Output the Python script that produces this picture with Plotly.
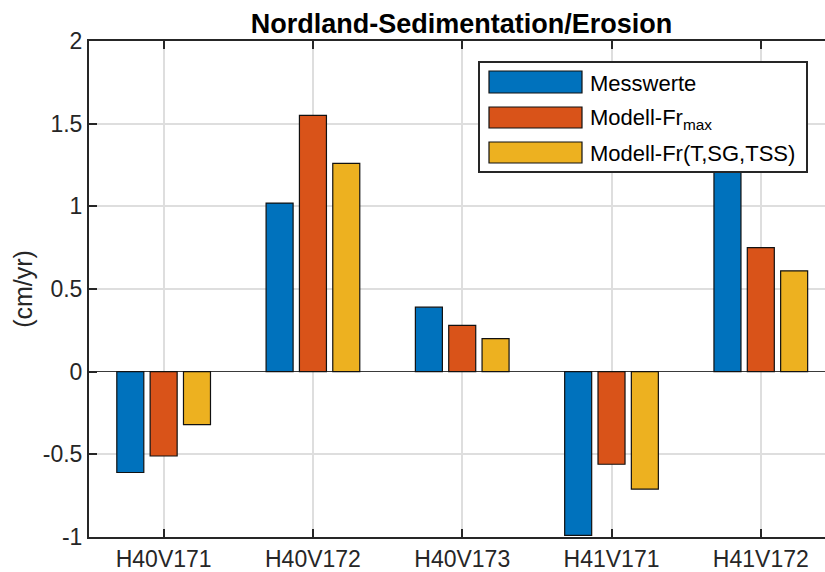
import plotly.graph_objects as go

# Station names and annual rates (cm/yr)
stations = ["H40V171", "H40V172", "H40V173", "H41V171", "H41V172"]
messwerte = [-0.61, 1.02, 0.39, -0.99, 1.45]
modell_frmax = [-0.51, 1.55, 0.28, -0.56, 0.75]
modell_fr_tsgtss = [-0.32, 1.26, 0.20, -0.71, 0.61]

series_names = ["Messwerte", "Modell-Fr<sub>max</sub>", "Modell-Fr(T,SG,TSS)"]
series_values = [messwerte, modell_frmax, modell_fr_tsgtss]
colors = ["#0072BD", "#D95319", "#EDB120"]

y_ticks = [-1, -0.5, 0, 0.5, 1, 1.5, 2]
y_ticktext = ["-1", "-0.5", "0", "0.5", "1", "1.5", "2"]

FONT = "Liberation Sans, Arial, Helvetica, sans-serif"
DARK = "#262626"
GRID = "#dedede"

fig = go.Figure()
for name, vals, col in zip(series_names, series_values, colors):
    fig.add_trace(go.Bar(
        x=stations, y=vals, name=name,
        marker=dict(color=col, line=dict(color="#111111", width=1.2)),
        showlegend=False,
    ))

# plot area in pixels: left 89, right 825, top 41, bottom 537
L, R, T, B = 89, 825, 41, 537
def px(x):
    return (x - L) / (R - L)
def py(y):
    return (B - y) / (B - T)

shapes = []
annotations = []

# legend box with wide colour swatches
shapes.append(dict(type="rect", xref="paper", yref="paper",
                   x0=px(479), x1=px(807), y0=py(172), y1=py(62),
                   fillcolor="white", line=dict(color=DARK, width=2), layer="above"))
rows = [(71, 93), (107, 128), (142, 163)]
for (y0, y1), name, col in zip(rows, series_names, colors):
    shapes.append(dict(type="rect", xref="paper", yref="paper",
                       x0=px(489), x1=px(582), y0=py(y1), y1=py(y0),
                       fillcolor=col, line=dict(color="#111111", width=1.2), layer="above"))
    annotations.append(dict(xref="paper", yref="paper", x=px(588), y=py((y0 + y1) / 2 + 1),
                            text=name, showarrow=False, xanchor="left", yanchor="middle",
                            font=dict(family=FONT, size=22, color="#000000")))

fig.update_layout(
    width=825, height=572,
    margin=dict(l=L, r=825 - R, t=T, b=572 - B),
    paper_bgcolor="white", plot_bgcolor="white",
    barmode="group", bargap=0.33, bargroupgap=0.19,
    title=dict(text="<b>Nordland-Sedimentation/Erosion</b>", x=(L + 834) / 2 / 825,
               xanchor="center", y=1 - 24 / 572, yanchor="middle",
               font=dict(family=FONT, size=27, color="#000000")),
    font=dict(family=FONT, color=DARK),
    shapes=shapes, annotations=annotations,
)

fig.update_xaxes(
    type="category", range=[-0.5, 4.43],
    showgrid=True, gridcolor=GRID, gridwidth=1.5,
    showline=True, linecolor=DARK, linewidth=2, mirror="ticks",
    ticks="inside", ticklen=8, tickwidth=2, tickcolor=DARK,
    tickfont=dict(family=FONT, size=23, color=DARK),
    zeroline=False,
)
fig.update_yaxes(
    range=[-1, 2], tickvals=y_ticks, ticktext=y_ticktext,
    showgrid=True, gridcolor=GRID, gridwidth=1.5,
    showline=True, linecolor=DARK, linewidth=2,
    ticks="inside", ticklen=8, tickwidth=2, tickcolor=DARK,
    tickfont=dict(family=FONT, size=23, color=DARK),
    zeroline=True, zerolinecolor="#3a3a3a", zerolinewidth=1.3,
    title=dict(text="(cm/yr)", font=dict(family=FONT, size=25, color=DARK), standoff=3),
)

fig.write_html("out.html")
